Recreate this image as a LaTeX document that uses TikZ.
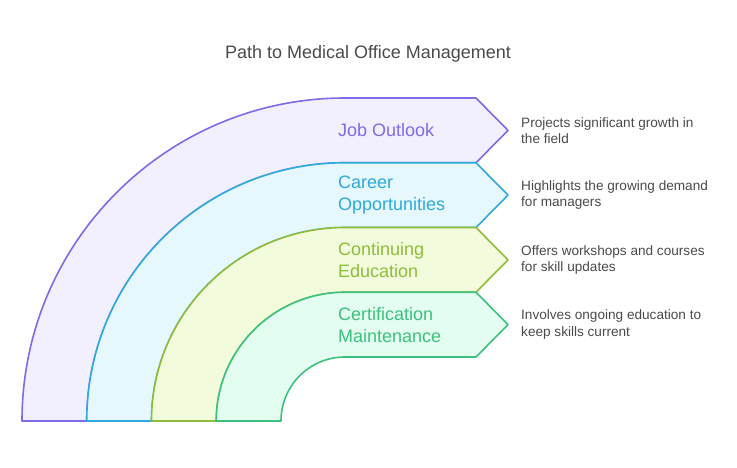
\documentclass[tikz,border=0pt]{standalone}
\usepackage{fontspec}
\setmainfont{Liberation Sans}
\usetikzlibrary{positioning}

\definecolor{jobline}{HTML}{7E6BE5}
\definecolor{jobfill}{HTML}{F2F0FE}
\definecolor{carline}{HTML}{2EAADC}
\definecolor{carfill}{HTML}{E7F7FE}
\definecolor{eduline}{HTML}{8FBC3A}
\definecolor{edufill}{HTML}{F2FCDC}
\definecolor{cerline}{HTML}{3DC17F}
\definecolor{cerfill}{HTML}{E3FDF0}
\definecolor{notegray}{HTML}{4A4A4A}

\begin{document}
\begin{tikzpicture}[x=1pt,y=1pt,
  band/.style={line width=1.6pt, line join=round},
  steplabel/.style={anchor=west, align=left, inner sep=0pt,
    font=\fontsize{18}{22}\selectfont},
  notetext/.style={anchor=west, align=left, inner sep=0pt, text=notegray,
    font=\fontsize{13.6}{16.5}\selectfont},
  titletext/.style={text=notegray, font=\fontsize{18}{20}\selectfont}]
\useasboundingbox (0,0) rectangle (737,467);
\node [titletext] (title) at (368,413) {Path to Medical Office Management};
% bands, outer to inner
\draw [band, draw=jobline, fill=jobfill] (22,46) arc [start angle=180, end angle=90, radius=323]
  -- (476,369) -- (508,336.6) -- (476,304.25) -- (345,304.25)
  arc [start angle=90, end angle=180, radius=258.25] -- cycle;
\draw [band, draw=carline, fill=carfill] (86.75,46) arc [start angle=180, end angle=90, radius=258.25]
  -- (476,304.25) -- (508,271.9) -- (476,239.5) -- (345,239.5)
  arc [start angle=90, end angle=180, radius=193.5] -- cycle;
\draw [band, draw=eduline, fill=edufill] (151.5,46) arc [start angle=180, end angle=90, radius=193.5]
  -- (476,239.5) -- (508,207.1) -- (476,174.75) -- (345,174.75)
  arc [start angle=90, end angle=180, radius=128.75] -- cycle;
\draw [band, draw=cerline, fill=cerfill] (216.25,46) arc [start angle=180, end angle=90, radius=128.75]
  -- (476,174.75) -- (508,142.4) -- (476,110) -- (345,110)
  arc [start angle=90, end angle=180, radius=64] -- cycle;
% labels on the bands
\node [steplabel, text=jobline] (joblabel) at (338,336.6) {Job Outlook};
\node [steplabel, text=carline] (carlabel) at (338,271.9) {Career\\Opportunities};
\node [steplabel, text=eduline] (edulabel) at (338,207.1) {Continuing\\Education};
\node [steplabel, text=cerline] (cerlabel) at (338,142.4) {Certification\\Maintenance};
% notes on the right
\node [notetext] (jobnote) at (521,336.6) {Projects significant growth in\\the field};
\node [notetext] (carnote) at (521,271.9) {Highlights the growing demand\\for managers};
\node [notetext] (edunote) at (521,207.1) {Offers workshops and courses\\for skill updates};
\node [notetext] (cernote) at (521,142.4) {Involves ongoing education to\\keep skills current};
\end{tikzpicture}
\end{document}
